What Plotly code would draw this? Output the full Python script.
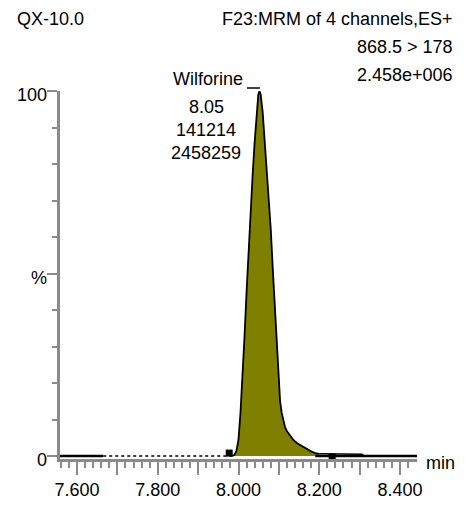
import numpy as np
import plotly.graph_objects as go

# Chromatogram of the 868.5 > 178 transition (relative intensity, %)
peak_time = [7.985, 7.990, 7.995, 8.000, 8.005, 8.010, 8.015, 8.020, 8.025, 8.030,
             8.035, 8.040, 8.045, 8.049, 8.052, 8.055, 8.060, 8.065, 8.070, 8.075,
             8.080, 8.085, 8.090, 8.095, 8.099, 8.103, 8.107, 8.111, 8.115, 8.120,
             8.128, 8.136, 8.145, 8.153, 8.160, 8.170, 8.181, 8.190, 8.200]
peak_pct = [0, 0.3, 1.5, 4.5, 12, 21, 33, 45, 57, 68,
            77, 86, 94, 99, 100, 99, 94, 86, 78, 71,
            62, 51, 41, 30, 21, 15, 11.8, 9.5, 8.0, 6.8,
            5.5, 4.4, 3.5, 3.0, 2.6, 1.8, 1.2, 0.8, 0.6]
tail_time = [8.200, 8.230, 8.260, 8.290, 8.306, 8.312]
tail_pct = [0.6, 0.55, 0.55, 0.55, 0.5, 0.0]
base_solid_left = ([7.558, 7.665], [0, 0])
base_dotted = ([7.665, 7.985], [0, 0])
base_solid_right = ([8.190, 8.442], [0, 0])
# integration start / end markers
mark_time = [7.977, 8.232]
mark_pct = [0.8, -0.3]

x_major = [7.6, 7.7, 7.8, 7.9, 8.0, 8.1, 8.2, 8.3, 8.4]
x_labels = ["7.600", "", "7.800", "", "8.000", "", "8.200", "", "8.400"]
y_major = [0, 50, 100]
y_labels = ["0", "%", "100"]

W, H = 465, 507
L, R, T, B = 60, 48, 91, 48
PW, PH = W - L - R, H - T - B


def px(xp):
    return (xp - L) / PW


def py(yp):
    return (H - B - yp) / PH


FONT = "Arial, Liberation Sans, sans-serif"
FS = 18
AX = "#8a8a8a"
OLIVE = "#808000"

fig = go.Figure()
fig.add_trace(go.Scatter(x=peak_time, y=peak_pct, mode="lines", fill="tozeroy",
                         fillcolor=OLIVE, line=dict(color="black", width=1.8),
                         hoverinfo="skip"))
fig.add_trace(go.Scatter(x=tail_time, y=tail_pct, mode="lines",
                         line=dict(color="black", width=1.5), hoverinfo="skip"))
fig.add_trace(go.Scatter(x=base_solid_left[0], y=base_solid_left[1], mode="lines",
                         line=dict(color="black", width=2.5), hoverinfo="skip"))
fig.add_trace(go.Scatter(x=base_dotted[0], y=base_dotted[1], mode="lines",
                         line=dict(color="black", width=1.5, dash="dot"), hoverinfo="skip"))
fig.add_trace(go.Scatter(x=base_solid_right[0], y=base_solid_right[1], mode="lines",
                         line=dict(color="black", width=2.5), hoverinfo="skip"))
fig.add_trace(go.Scatter(x=mark_time, y=mark_pct, mode="markers",
                         marker=dict(symbol="square", size=7, color="black"),
                         hoverinfo="skip"))

# short marker bar next to the apex label
fig.add_shape(type="line", xref="x", yref="paper", x0=8.021, x1=8.053,
              y0=py(88), y1=py(88), line=dict(color="black", width=1.5))

minor_x = [v for v in np.round(np.arange(7.56, 8.44, 0.02), 3)
           if abs(v * 10 - round(v * 10)) > 1e-6]

fig.update_xaxes(range=[7.5579, 8.4421], showgrid=False, zeroline=False,
                 automargin=False,
                 showline=True, linecolor=AX, linewidth=2.5,
                 ticks="outside", tickmode="array", tickvals=x_major, ticktext=x_labels,
                 ticklen=13, tickwidth=2, tickcolor=AX,
                 minor=dict(tickmode="array", tickvals=minor_x, ticks="outside",
                            ticklen=6, tickwidth=2, tickcolor=AX),
                 tickfont=dict(family=FONT, size=FS, color="black"))
fig.update_yaxes(range=[-0.82, 100], showgrid=False, zeroline=False,
                 automargin=False, showticklabels=False,
                 showline=True, linecolor=AX, linewidth=2.5,
                 ticks="outside", tickmode="array", tickvals=y_major,
                 ticklen=10, tickwidth=2, tickcolor=AX,
                 minor=dict(tickmode="array", tickvals=list(range(10, 100, 10)),
                            ticks="outside", ticklen=5, tickwidth=2, tickcolor=AX))

# y tick labels sit slightly below their ticks
for val, lab in zip(y_major, y_labels):
    fig.add_annotation(text=lab, xref="paper", yref="y", x=px(49), y=val,
                       xanchor="right", yanchor="middle", yshift=-4, showarrow=False,
                       font=dict(family=FONT, size=FS, color="black"))

texts = [
    ("QX-10.0", 15, 19, "left"),
    ("F23:MRM of 4 channels,ES+", 455, 19, "right"),
    ("868.5 > 178", 455, 47, "right"),
    ("2.458e+006", 455, 75, "right"),
    ("Wilforine", 208, 79, "center"),
    ("8.05", 206, 107, "center"),
    ("141214", 206, 130, "center"),
    ("2458259", 206, 153, "center"),
    ("min", 424, 463, "left"),
]
for txt, x, y, anc in texts:
    fig.add_annotation(text=txt, xref="paper", yref="paper", x=px(x), y=py(y),
                       xanchor=anc, yanchor="middle", showarrow=False,
                       font=dict(family=FONT, size=FS, color="black"))

fig.update_layout(width=W, height=H, margin=dict(l=L, r=R, t=T, b=B),
                  paper_bgcolor="white", plot_bgcolor="white", showlegend=False)

fig.write_html("out.html")
